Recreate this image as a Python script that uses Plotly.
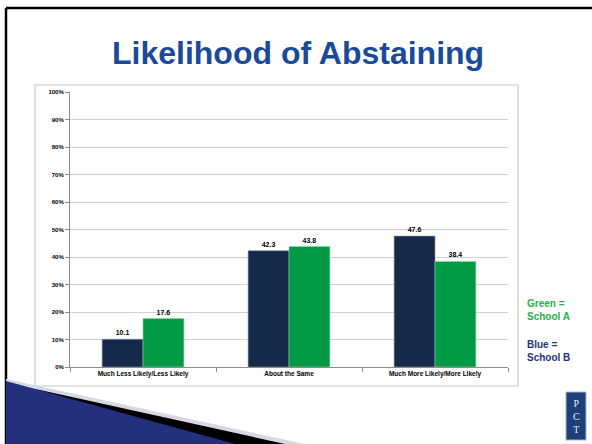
import plotly.graph_objects as go

categories = ["Much Less Likely/Less Likely", "About the Same", "Much More Likely/More Likely"]
school_b = [10.1, 42.3, 47.6]
school_a = [17.6, 43.8, 38.4]

W, H = 592, 444
L, R, T, B = 70, 84, 92, 77
PW, PH = W - L - R, H - T - B


def px(x):
    return (x - L) / PW


def py(y):
    return (H - B - y) / PH


def path(points):
    d = "M " + " L ".join(f"{px(x):.4f},{py(y):.4f}" for x, y in points) + " Z"
    return d


fig = go.Figure()
fig.add_trace(go.Bar(
    x=categories, y=school_b, name="School B",
    marker=dict(color="#15294a", line=dict(color="#8a96a8", width=0.6)),
    text=[f"<b>{v:.1f}</b>" for v in school_b], textposition="outside",
    textfont=dict(size=7, color="#000000", family="Liberation Sans"),
    cliponaxis=False,
))
fig.add_trace(go.Bar(
    x=categories, y=school_a, name="School A",
    marker=dict(color="#009944", line=dict(color="#9ccfae", width=0.6)),
    text=[f"<b>{v:.1f}</b>" for v in school_a], textposition="outside",
    textfont=dict(size=7, color="#000000", family="Liberation Sans"),
    cliponaxis=False,
))

shapes = [
    # chart frame
    dict(type="rect", xref="paper", yref="paper", x0=px(35), x1=px(518), y0=py(386), y1=py(85),
         line=dict(color="#c8c8c8", width=1.2), layer="below"),
    # slide border
    dict(type="line", xref="paper", yref="paper", x0=px(6), x1=px(592), y0=py(8), y1=py(8),
         line=dict(color="#000000", width=2.5)),
    dict(type="line", xref="paper", yref="paper", x0=px(6), x1=px(6), y0=py(8), y1=py(444),
         line=dict(color="#000000", width=2.5)),
    # bottom-left swoosh
    dict(type="path", xref="paper", yref="paper", path=path([(6, 379), (305, 444), (6, 444)]),
         fillcolor="#d6d8e4", line=dict(width=0)),
    dict(type="path", xref="paper", yref="paper", path=path([(40, 390), (285, 444), (6, 444), (6, 384)]),
         fillcolor="#000000", line=dict(width=0)),
    dict(type="path", xref="paper", yref="paper", path=path([(6, 381), (235, 444), (6, 444)]),
         fillcolor="#24307e", line=dict(width=0)),
    # logo
    dict(type="rect", xref="paper", yref="paper", x0=px(566), x1=px(586), y0=py(440), y1=py(392),
         fillcolor="#1d3f7a", line=dict(color="#a9b6cc", width=1)),
]

annotations = [
    dict(text="<b>Likelihood of Abstaining</b>", xref="paper", yref="paper",
         x=px(298), y=py(53), xanchor="center", yanchor="middle", showarrow=False,
         font=dict(size=32, color="#1a4a9a", family="Liberation Sans")),
    dict(text="<b>Green =<br>School A</b>", xref="paper", yref="paper",
         x=px(525), y=py(310), xanchor="left", yanchor="middle", align="left", showarrow=False,
         font=dict(size=10, color="#1db34c", family="Liberation Sans")),
    dict(text="<b>Blue =<br>School B</b>", xref="paper", yref="paper",
         x=px(525), y=py(351), xanchor="left", yanchor="middle", align="left", showarrow=False,
         font=dict(size=10, color="#1f3478", family="Liberation Sans")),
    dict(text="P<br>C<br>T", xref="paper", yref="paper",
         x=px(576), y=py(416), xanchor="center", yanchor="middle", showarrow=False,
         font=dict(size=10, color="#e8ecf4", family="Liberation Serif")),
]

fig.update_layout(
    width=W, height=H, autosize=False,
    margin=dict(l=L, r=R, t=T, b=B),
    paper_bgcolor="#ffffff", plot_bgcolor="#ffffff",
    barmode="group", bargap=0.44, bargroupgap=0.0,
    showlegend=False,
    shapes=shapes, annotations=annotations,
    font=dict(family="Liberation Sans", color="#000000"),
    xaxis=dict(
        showline=True, linecolor="#8c8c8c", linewidth=1,
        ticks="outside", tickson="boundaries", ticklen=4, tickcolor="#8c8c8c",
        tickfont=dict(size=6.5, family="Liberation Sans Narrow, Liberation Sans"),
        ticktext=[f"<b>{c}</b>" for c in categories], tickvals=categories,
    ),
    yaxis=dict(
        range=[0, 100], dtick=10, ticksuffix="%",
        showgrid=True, gridcolor="#cfcfcf", gridwidth=1,
        showline=True, linecolor="#8c8c8c", linewidth=1,
        ticks="outside", ticklen=4, tickcolor="#8c8c8c",
        tickfont=dict(size=6, family="Liberation Sans Narrow, Liberation Sans"),
        tickprefix="<b>", zeroline=False,
    ),
)

# page body has a default margin; remove it so the figure fills the window
fig.write_html("out.html", config={"displayModeBar": False},
               post_script="document.body.style.margin='0';")
